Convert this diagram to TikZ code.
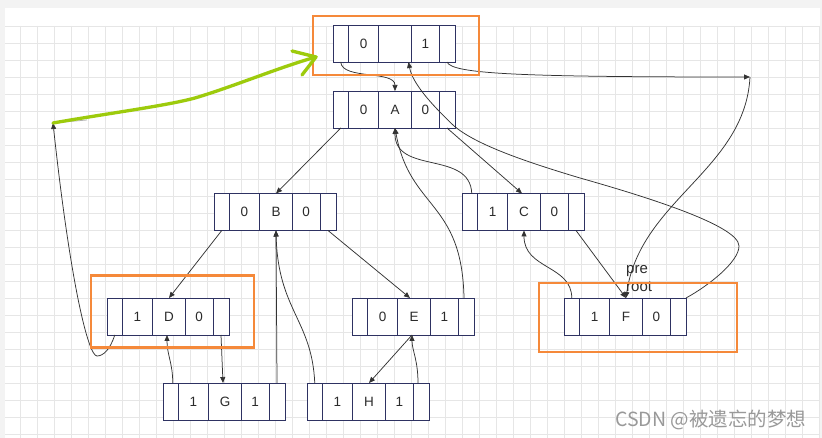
\documentclass[tikz,border=0pt]{standalone}
\usepackage{fontspec}
\setmainfont{Liberation Sans}
\newfontfamily\cjkfont{Noto Sans CJK SC}
\usetikzlibrary{arrows.meta,calc}
\definecolor{nodeline}{HTML}{2E3262}
\definecolor{orangeline}{HTML}{F5893A}
\definecolor{greenline}{HTML}{9DCB0C}
\definecolor{gridcol}{HTML}{E6E6E6}
\definecolor{bandcol}{HTML}{F3F3F3}
\definecolor{conncol}{HTML}{333333}
\definecolor{txtcol}{HTML}{2B2B2B}
\definecolor{wmcol}{HTML}{999999}
\newcommand\recordnode[6]{%
  \node[cellbox, minimum width=15.5pt, anchor=north west] (#1-1) at (#2,#3) {};
  \node[cellbox, minimum width=30pt, anchor=north west] (#1-2) at (#1-1.north east) {#4};
  \node[cellbox, minimum width=33pt, anchor=north west] (#1-3) at (#1-2.north east) {#5};
  \node[cellbox, minimum width=27.5pt, anchor=north west] (#1-4) at (#1-3.north east) {#6};
  \node[cellbox, minimum width=16pt, anchor=north west] (#1-5) at (#1-4.north east) {};
}
\begin{document}
\begin{tikzpicture}[x=1pt,y=-1pt,
  cellbox/.style={draw=nodeline, fill=white, line width=0.9pt, minimum height=37pt, inner sep=0pt, outer sep=0pt, font=\fontsize{13.5}{15}\selectfont, text=txtcol},
  conn/.style={draw=conncol, line width=0.75pt, -{Triangle[length=6pt,width=5pt]}},
  plainline/.style={draw=conncol, line width=0.75pt},
  obox/.style={draw=orangeline, line width=2.8pt, inner sep=0pt, outer sep=0pt, anchor=north west},
  gridline/.style={draw=gridcol, line width=0.9pt},
  lbl/.style={font=\fontsize{15}{17}\selectfont, text=txtcol, inner sep=0pt, anchor=base west},
  greenstroke/.style={draw=greenline, line width=3.3pt, line cap=round, line join=round}
]
\useasboundingbox (0,0) rectangle (822,438);
\fill[white] (0,0) rectangle (822,438);
\fill[bandcol] (0,0) rectangle (822,8);
\fill[bandcol] (0,0) rectangle (5,438);
\fill[bandcol] (820,0) rectangle (822,438);
\foreach \i in {0,...,47} \draw[gridline] ({20+17*\i},26) -- ({20+17*\i},438);
\foreach \j in {0,...,24} \draw[gridline] (5,{26+17*\j}) -- (820,{26+17*\j});

% records
\recordnode{T}{333}{25}{0}{}{1}
\recordnode{A}{333}{91}{0}{A}{0}
\recordnode{B}{214}{193.5}{0}{B}{0}
\recordnode{C}{462}{193.5}{1}{C}{0}
\recordnode{D}{107}{298}{1}{D}{0}
\recordnode{E}{352}{298}{0}{E}{1}
\recordnode{F}{564}{298}{1}{F}{0}
\recordnode{G}{163}{383}{1}{G}{1}
\recordnode{H}{307}{383}{1}{H}{1}

\coordinate (R) at (750,77);
\coordinate (L) at (53,123);
\coordinate (GT) at (316,57);

% connectors
\draw[conn] (T-1.south) .. controls +(1,18) and +(0,-21) .. (A-3.north);
\draw[conn] (T-5.south) .. controls +(5,12) and +(-230,0) .. (R);
\draw[conn] (R) .. controls +(-5,93) and +(14,-98) .. (F-3.north);
\draw[conn] (F-5.north east) .. controls +(22,-12) and +(0,16) .. (739,246)
  .. controls +(0,-21) and +(60,17) .. (580,178)
  .. controls +(-50,-15) and +(22,20) .. (453,125)
  .. controls +(-23,-22) and +(4,21) .. ([xshift=-3pt]T-3.south east);
\draw[conn] (A-1.south) -- (B-3.north);
\draw[conn] (B-1.south) -- (D-3.north);
\draw[conn] (B-5.south) -- ([xshift=-4pt]E-3.north);
\draw[conn] (D-5.south) -- ([xshift=-2pt]G-3.north);
\draw[conn] ([xshift=2pt]G-1.north) .. controls +(0,-20) and +(0,20) .. ([xshift=-2pt]D-3.south);
\draw[conn] (G-5.north) -- (B-3.south);
\draw[conn] (H-1.north) .. controls (312,320) and (278,310) .. (B-3.south);
\draw[conn] ([xshift=-2pt]E-3.south) -- (H-3.north);
\draw[conn] ([xshift=-3pt]H-5.north) .. controls +(0,-23) and +(0,15) .. ([xshift=-2pt]E-3.south);
\draw[conn] ([xshift=-2pt]E-5.north) .. controls (462,200) and (410,210) .. (A-3.south);
\draw[conn] ([xshift=2pt]C-1.north) .. controls (470,150) and (395,175) .. (A-3.south);
\draw[conn] (A-5.south) -- ([xshift=-2pt]C-3.north);
\draw[conn] (C-5.south) -- (F-3.north);
\draw[conn] (F-1.north) .. controls +(0,-33) and +(0,39) .. (C-3.south);
\draw[conn] (D-1.south) .. controls (110,350) and (103,356) .. (97,356)
  .. controls (88,356) and (70,280) .. (L);
\draw[plainline, draw=gray!60] (L) -- ++(34,-3);

% labels
\node[lbl] (pre) at (626,274) {pre};
\node[lbl] (root) at (626,292) {root};

% orange highlight boxes
\node[obox, minimum width=166pt, minimum height=59pt] (OT) at (313,16) {};
\node[obox, minimum width=163pt, minimum height=72pt] (OD) at (91,275.5) {};
\node[obox, minimum width=198pt, minimum height=69pt] (OF) at (539,283) {};

% green hand-drawn arrow
\draw[greenstroke] (L) .. controls (110,113) and (165,106) .. (195,98)
  .. controls (235,86) and (280,67) .. (GT);
\draw[greenstroke] (292,51) -- (GT) -- (302,75);

% watermark
\node[anchor=base west, inner sep=0pt, text=wmcol, font=\cjkfont\fontsize{19.5}{21}\selectfont] (wm) at (615,426) {CSDN @被遗忘的梦想};
\end{tikzpicture}
\end{document}
